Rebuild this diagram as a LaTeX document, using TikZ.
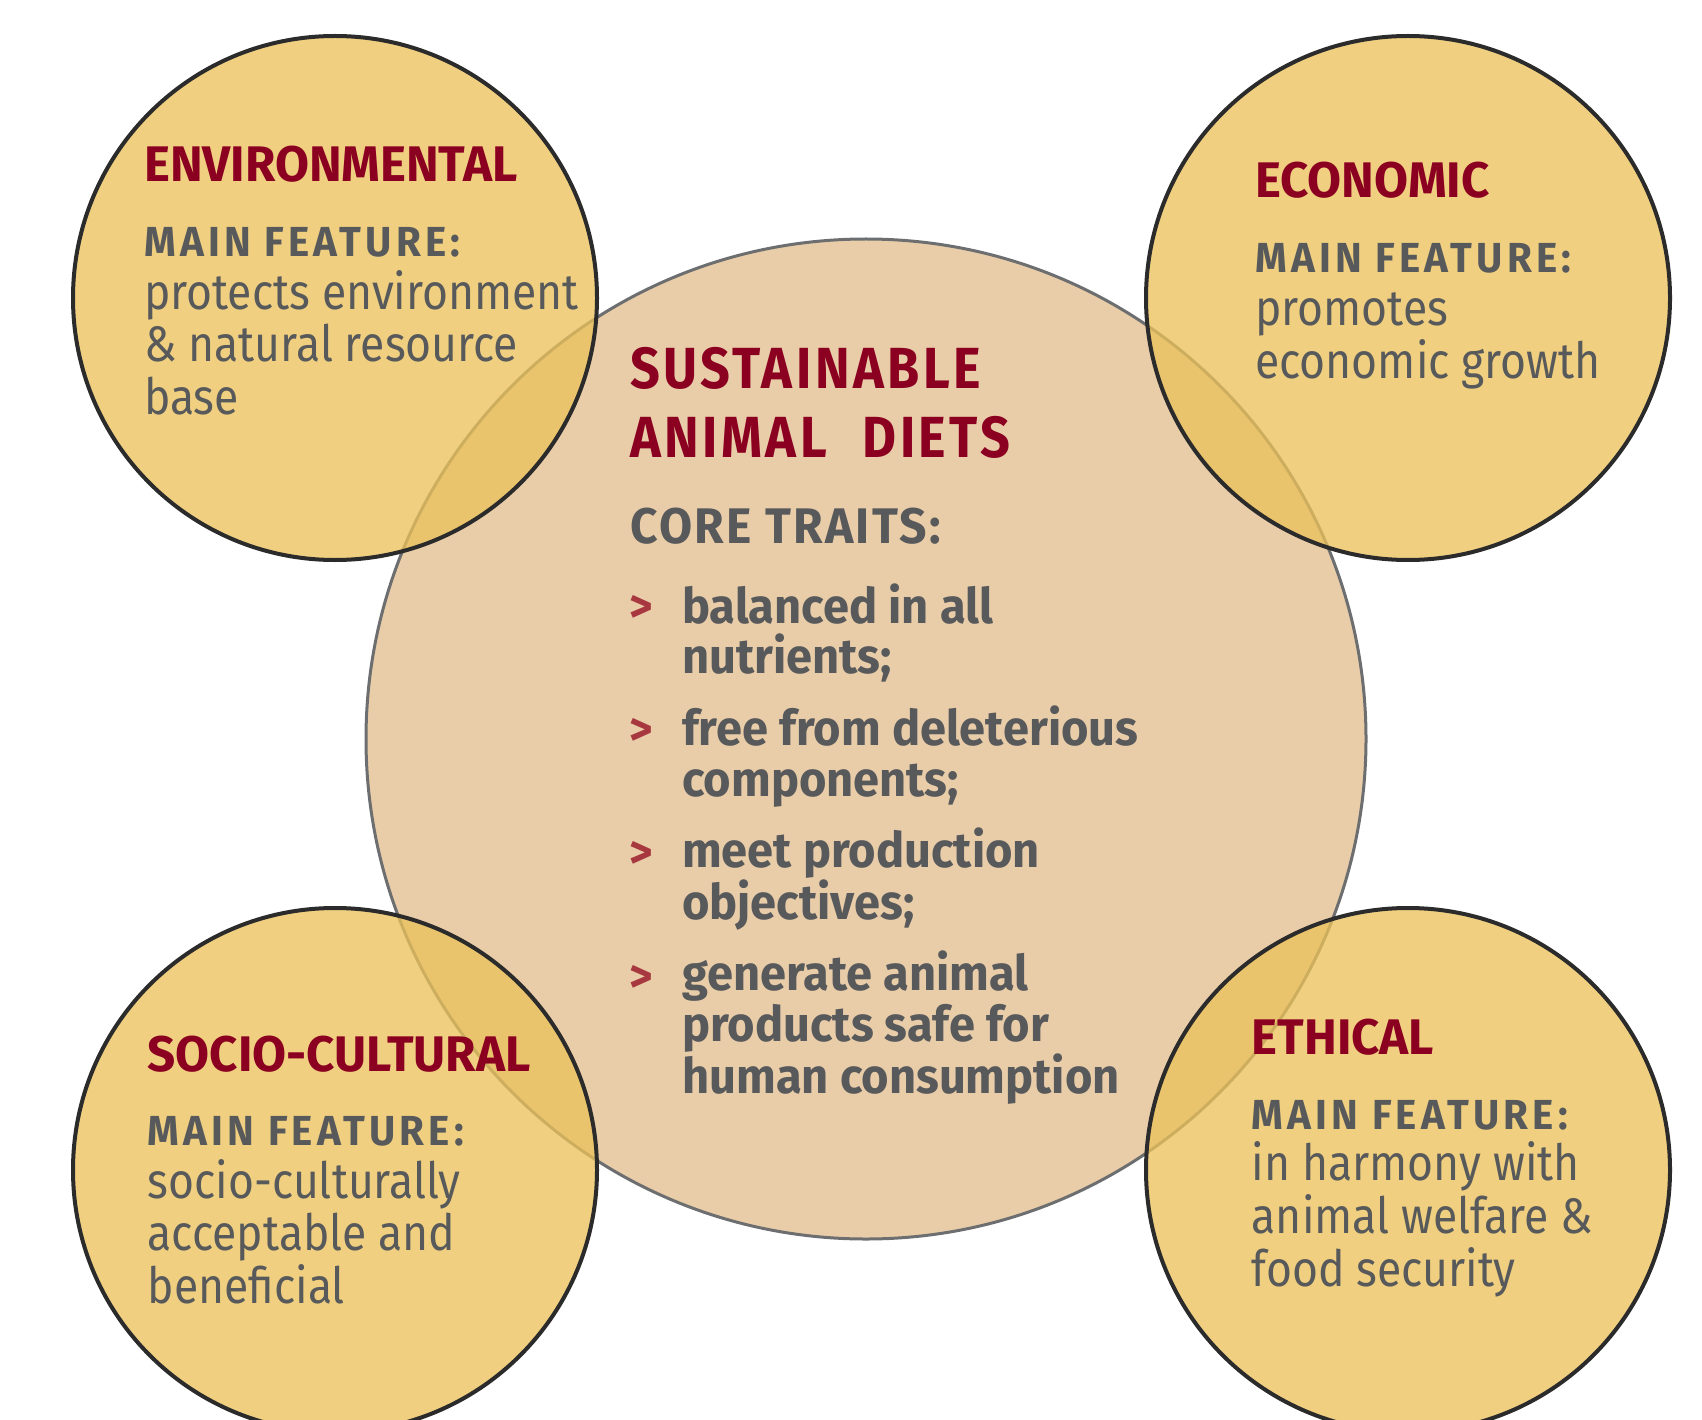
\documentclass[tikz,border=0pt]{standalone}
\usepackage{fontspec}
\setmainfont{Fira Sans}[FakeStretch=0.89]
\newfontfamily\headfont{Fira Sans}[FakeStretch=0.985]
\newfontfamily\traitfont{Fira Sans}[FakeStretch=0.96]
\newfontfamily\featfont{Fira Sans}[FakeStretch=0.96,LetterSpace=10]
\newfontfamily\corefont{Fira Sans}[FakeStretch=0.96,LetterSpace=4.5]
\newfontfamily\titlefont{Fira Sans}[FakeStretch=0.9,LetterSpace=6]
\usetikzlibrary{positioning}
\definecolor{dietred}{HTML}{8B0021}
\definecolor{textgray}{HTML}{58595B}
\definecolor{chevronred}{HTML}{A8383F}
\definecolor{dietfill}{HTML}{E9CDA9}
\definecolor{dietline}{HTML}{6D6E70}
\definecolor{pillarfill}{HTML}{EBC25A}
\definecolor{pillarline}{HTML}{2B2B2B}
\tikzset{
  dietdisc/.style={circle, minimum size=1000pt, inner sep=0pt, fill=dietfill, draw=dietline, line width=3pt},
  pillardisc/.style={circle, minimum size=524pt, inner sep=0pt, fill=pillarfill, fill opacity=0.77, draw=pillarline, line width=4pt},
  pillarhead/.style={anchor=base west, inner sep=0pt, text=dietred, font=\headfont\fontsize{50}{52}\selectfont\bfseries},
  featurehead/.style={anchor=base west, inner sep=0pt, text=textgray, font=\featfont\fontsize{42}{44}\selectfont\bfseries},
  featuretext/.style={anchor=base west, inner sep=0pt, text=textgray, align=left, font=\fontsize{50}{52.7}\selectfont},
  traittext/.style={anchor=base west, inner sep=0pt, text=textgray, align=left, font=\traitfont\fontsize{49}{50.5}\selectfont\bfseries},
  chevron/.style={anchor=base west, inner sep=0pt, text=chevronred, font=\traitfont\fontsize{47}{48}\selectfont\bfseries}
}
\begin{document}
\begin{tikzpicture}[x=1pt, y=-1pt]
  \useasboundingbox (0, 0) rectangle (1702, 1420);
  % circles
  \node [dietdisc] (diets) at (866, 739) {};
  \node [pillardisc] (envdisc) at (335, 298) {};
  \node [pillardisc] (ecodisc) at (1408, 298) {};
  \node [pillardisc] (socdisc) at (335, 1170) {};
  \node [pillardisc] (ethdisc) at (1408, 1170) {};
  % the four pillars (multi-line texts sit on their last baseline)
  \node [pillarhead] (env) at (144, 182) {ENVIRONMENTAL};
  \node [featurehead] (envfeat) at (144, 256.5) {MAIN FEATURE:};
  \node [featuretext] (envtext) at (144, 414.5) {protects environment\\ \& natural resource\\ base};
  \node [pillarhead] (eco) at (1255, 198) {ECONOMIC};
  \node [featurehead] (ecofeat) at (1255, 273) {MAIN FEATURE:};
  \node [featuretext] (ecotext) at (1255, 378) {promotes\\ economic growth};
  \node [pillarhead] (soc) at (147.5, 1071) {SOCIO-CULTURAL};
  \node [featurehead] (socfeat) at (147.5, 1145) {MAIN FEATURE:};
  \node [featuretext] (soctext) at (147.5, 1303.5) {socio-culturally\\ acceptable and\\ beneficial};
  \node [pillarhead] (eth) at (1251.5, 1054) {ETHICAL};
  \node [featurehead] (ethfeat) at (1251.5, 1129) {MAIN FEATURE:};
  \node [featuretext] (ethtext) at (1251.5, 1286) {in harmony with\\ animal welfare \&\\ food security};
  % centre
  \node [anchor=base west, inner sep=0pt, text=dietred, font=\titlefont\fontsize{58}{69}\selectfont\bfseries, align=left]
        (title) at (630, 457) {SUSTAINABLE\\ ANIMAL\hspace{20pt} DIETS};
  \node [anchor=base west, inner sep=0pt, text=textgray, font=\corefont\fontsize{50}{52}\selectfont\bfseries]
        (core) at (630, 543) {CORE TRAITS:};
  \node [chevron] (c1) at (629, 622.5) {>};
  \node [traittext] (t1) at (682, 673.5) {balanced in all\\ nutrients;};
  \node [chevron] (c2) at (629, 745) {>};
  \node [traittext] (t2) at (682, 796) {free from deleterious\\ components;};
  \node [chevron] (c3) at (629, 868) {>};
  \node [traittext] (t3) at (682, 919) {meet production\\ objectives;};
  \node [chevron] (c4) at (629, 992) {>};
  \node [traittext] (t4) at (682, 1093) {generate animal\\ products safe for\\ human consumption};
\end{tikzpicture}
\end{document}
